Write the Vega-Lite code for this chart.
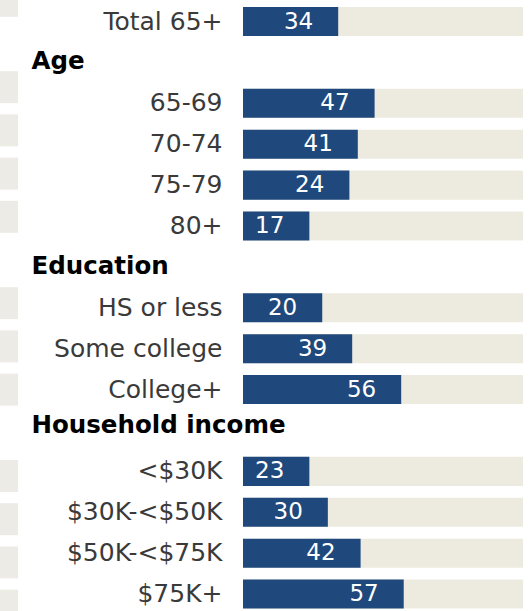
{
  "$schema": "https://vega.github.io/schema/vega-lite/v6.json",
  "padding": 0,
  "bounds": "flush",
  "spacing": 225,
  "config": {"view": {"stroke": null}},
  "datasets": {
    "rows": [
      {"cat": "Total 65+", "value": 34, "len": 34},
      {"cat": "Age"},
      {"cat": "65-69", "value": 47, "len": 47},
      {"cat": "70-74", "value": 41, "len": 41},
      {"cat": "75-79", "value": 24, "len": 38},
      {"cat": "80+", "value": 17, "len": 23.7},
      {"cat": "Education"},
      {"cat": "HS or less", "value": 20, "len": 28.3},
      {"cat": "Some college", "value": 39, "len": 39},
      {"cat": "College+", "value": 56, "len": 56.5},
      {"cat": "Household income"},
      {"cat": "<$30K", "value": 23, "len": 23.7},
      {"cat": "$30K-<$50K", "value": 30, "len": 30.3},
      {"cat": "$50K-<$75K", "value": 42, "len": 42},
      {"cat": "$75K+", "value": 57, "len": 57.4}
    ]
  },
  "hconcat": [
    {
      "width": 18,
      "height": 611,
      "data": {"name": "rows"},
      "transform": [{"filter": "isValid(datum.value)"}],
      "mark": {"type": "bar", "clip": true, "color": "#EDEBE5"},
      "encoding": {
        "x": {"datum": 100, "type": "quantitative", "scale": {"domain": [0, 100]}, "axis": null},
        "y": {
          "field": "cat", "type": "nominal",
          "scale": {
            "domain": ["Total 65+", "Age", "65-69", "70-74", "75-79", "80+", "Education", "HS or less", "Some college", "College+", "Household income", "<$30K", "$30K-<$50K", "$50K-<$75K", "$75K+"],
            "range": [-15.2, 621.6], "paddingInner": 0.26, "paddingOuter": 0
          },
          "axis": null
        }
      }
    },
    {
      "width": 280,
      "height": 611,
      "data": {"name": "rows"},
      "encoding": {
        "y": {
          "field": "cat", "type": "nominal",
          "scale": {
            "domain": ["Total 65+", "Age", "65-69", "70-74", "75-79", "80+", "Education", "HS or less", "Some college", "College+", "Household income", "<$30K", "$30K-<$50K", "$50K-<$75K", "$75K+"],
            "range": [7, 608.6], "paddingInner": 0.29, "paddingOuter": 0
          },
          "axis": {
            "title": null, "domain": false, "ticks": false, "grid": false,
            "labelFont": "DejaVu Sans",
            "labelLimit": 400,
            "labelFontSize": {"condition": {"test": "indexof(['Age','Education','Household income'], datum.value) >= 0", "value": 24.5}, "value": 25},
            "labelColor": {"condition": {"test": "indexof(['Age','Education','Household income'], datum.value) >= 0", "value": "#000000"}, "value": "#3a3a3a"},
            "labelFontWeight": {"condition": {"test": "indexof(['Age','Education','Household income'], datum.value) >= 0", "value": "bold"}, "value": "normal"},
            "labelAlign": {"condition": {"test": "indexof(['Age','Education','Household income'], datum.value) >= 0", "value": "left"}, "value": "right"},
            "labelOffset": {"condition": {"test": "datum.value === 'Household income'", "value": -4}, "value": 0},
            "labelPadding": {"condition": {"test": "indexof(['Age','Education','Household income'], datum.value) >= 0", "value": 212}, "value": 21}
          }
        }
      },
      "layer": [
        {
          "transform": [{"filter": "isValid(datum.value)"}],
          "mark": {"type": "bar", "color": "#EDEBE0"},
          "encoding": {
            "x": {"datum": 100, "type": "quantitative", "scale": {"domain": [0, 100]}, "axis": null}
          }
        },
        {
          "transform": [{"filter": "isValid(datum.value)"}],
          "mark": {"type": "bar", "color": "#1F497C"},
          "encoding": {
            "x": {"field": "len", "type": "quantitative", "scale": {"domain": [0, 100]}, "axis": null}
          }
        },
        {
          "transform": [{"filter": "isValid(datum.value)"}],
          "mark": {"type": "text", "align": "right", "baseline": "middle", "dx": -25, "color": "#ffffff", "font": "DejaVu Sans", "fontSize": 23},
          "encoding": {
            "x": {"field": "len", "type": "quantitative", "scale": {"domain": [0, 100]}, "axis": null},
            "text": {"field": "value", "type": "quantitative"}
          }
        }
      ]
    }
  ]
}
